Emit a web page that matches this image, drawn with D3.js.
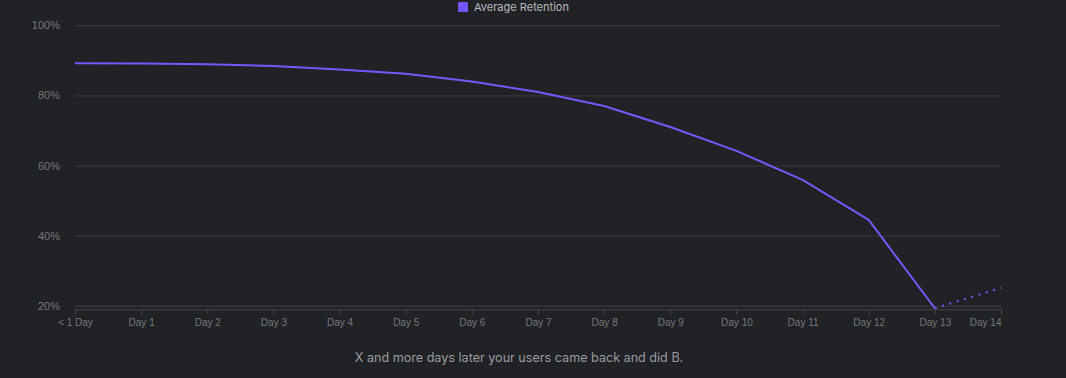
<!DOCTYPE html>
<html>
<head>
<meta charset="utf-8">
<script src="https://cdnjs.cloudflare.com/ajax/libs/d3/7.8.5/d3.min.js"></script>
<style>
  html, body { margin: 0; padding: 0; background: #212226; }
  svg { display: block; font-family: Inter, Roboto, sans-serif; }
</style>
</head>
<body>
<svg id="chart" width="1066" height="378"></svg>
<script>
    // retention values
    var days = ["< 1 Day", "Day 1", "Day 2", "Day 3", "Day 4", "Day 5", "Day 6", "Day 7",
                "Day 8", "Day 9", "Day 10", "Day 11", "Day 12", "Day 13", "Day 14"];
    var retention = [89.2, 89.1, 88.9, 88.4, 87.4, 86.2, 84.0, 81.0, 77.0, 71.0, 64.2, 55.9, 44.5, 19.3, 25.1];
    var yTicks = [20, 40, 60, 80, 100];
    var legendLabel = "Average Retention";
    var caption = "X and more days later your users came back and did B.";

    var svg = d3.select("#chart");
    var purple = "#7856ff";

    var x = d3.scalePoint().domain(days).range([75, 1001]);
    var y = d3.scaleLinear().domain([19, 100]).range([309.3, 25.3]);

    // gridlines + y labels
    var yAxis = svg.append("g").attr("transform", "translate(75,0)")
        .call(d3.axisLeft(y).tickValues(yTicks).tickSize(-926).tickFormat(function(d) { return d + "%"; }));
    yAxis.select(".domain").remove();
    yAxis.selectAll(".tick line").attr("stroke", "#3b3c41");
    yAxis.selectAll(".tick text").attr("x", -15).attr("fill", "#76777b")
        .style("font-size", "11px");

    // x axis
    var xAxis = svg.append("g").attr("transform", "translate(0,309.3)")
        .call(d3.axisBottom(x).tickSizeOuter(0).tickSize(5).tickPadding(5));
    xAxis.select(".domain").attr("stroke", "#46474c");
    xAxis.selectAll(".tick line").attr("stroke", "#46474c");
    xAxis.selectAll(".tick text").attr("fill", "#76777b").style("font-size", "10px")
        .attr("text-anchor", function(d, i) { return i === days.length - 1 ? "end" : "middle"; });

    var pts = days.map(function(d, i) { return [x(d), y(retention[i])]; });
    var line = d3.line();

    svg.append("path")
        .attr("d", line(pts.slice(0, 14)))
        .attr("fill", "none")
        .attr("stroke", purple)
        .attr("stroke-width", 2)
        .attr("stroke-linejoin", "round");

    svg.append("path")
        .attr("d", line(pts.slice(13)))
        .attr("fill", "none")
        .attr("stroke", purple)
        .attr("stroke-width", 2)
        .attr("stroke-dasharray", "2,5.6");

    // legend
    var lg = svg.append("g").attr("transform", "translate(458,2)");
    lg.append("rect").attr("width", 10).attr("height", 10).attr("rx", 1.5).attr("fill", purple);
    lg.append("text").attr("x", 16).attr("y", 5).attr("dy", "0.35em")
        .attr("fill", "#b8b8bc").style("font-size", "11px").text(legendLabel);

    // caption
    svg.append("text").attr("x", 519).attr("y", 358).attr("dy", "0.35em")
        .attr("text-anchor", "middle").attr("fill", "#9a9b9f")
        .style("font-size", "12.6px").text(caption);
</script>
</body>
</html>
